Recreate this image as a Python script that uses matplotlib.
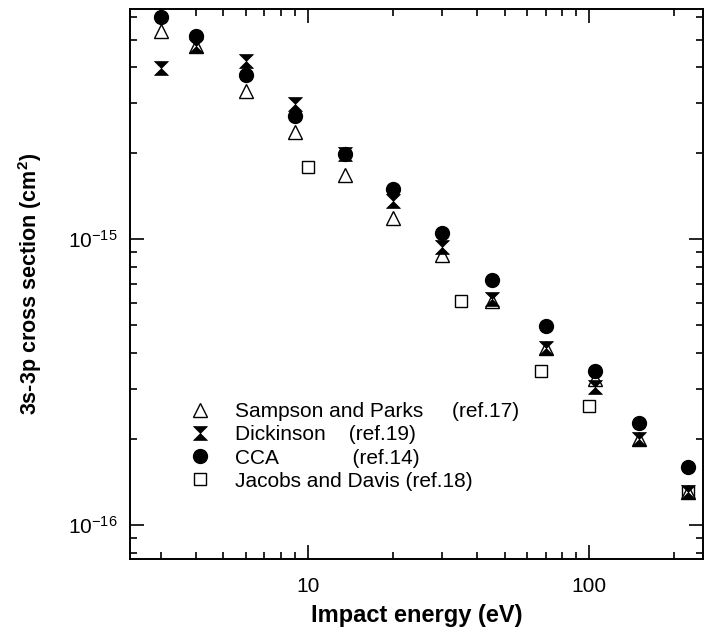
"""3s-3p excitation cross section vs impact energy (log-log)."""

import matplotlib
matplotlib.use("Agg")
import matplotlib.pyplot as plt
from matplotlib.ticker import NullFormatter, LogLocator

plt.rcParams["font.family"] = ["Liberation Sans", "DejaVu Sans"]
plt.rcParams["mathtext.default"] = "regular"

# data (eV, cm^2)
energy = [3, 4, 6, 9, 13.5, 20, 30, 45, 70, 105, 150, 225]
sampson = [5.37e-15, 4.75e-15, 3.3e-15, 2.37e-15, 1.68e-15, 1.19e-15,
           8.8e-16, 6.1e-16, 4.15e-16, 3.23e-16, 2.0e-16, 1.3e-16]
dickinson = [3.98e-15, 4.75e-15, 4.2e-15, 2.98e-15, 1.99e-15, 1.36e-15,
             9.4e-16, 6.16e-16, 4.15e-16, 3.05e-16, 2.0e-16, 1.3e-16]
cca = [6.0e-15, 5.15e-15, 3.76e-15, 2.7e-15, 1.99e-15, 1.5e-15,
       1.05e-15, 7.18e-16, 4.96e-16, 3.47e-16, 2.28e-16, 1.6e-16]
jacobs_energy = [10, 35, 67.5, 100, 225]
jacobs = [1.79e-15, 6.06e-16, 3.46e-16, 2.6e-16, 1.3e-16]

labels = [
    "Sampson and Parks     (ref.17)",
    "Dickinson    (ref.19)",
    "CCA             (ref.14)",
    "Jacobs and Davis (ref.18)",
]

# hourglass marker (two filled triangles tip to tip)
bowtie = [(-1, 1), (1, 1), (-1, -1), (1, -1), (-1, 1)]

fig = plt.figure(figsize=(7.08, 6.33), dpi=100)
ax = fig.add_axes([0.1836, 0.1169, 0.8094, 0.8689])

h_sq, = ax.plot(jacobs_energy, jacobs, ls="none", marker="s", ms=9,
                mfc="white", mec="black", mew=1.0)
h_tri, = ax.plot(energy, sampson, ls="none", marker="^", ms=10.5,
                 mfc="white", mec="black", mew=1.0)
h_bow, = ax.plot(energy, dickinson, ls="none", marker=bowtie, ms=10,
                 mfc="black", mec="black", mew=0.5)
h_cir, = ax.plot(energy, cca, ls="none", marker="o", ms=10,
                 mfc="black", mec="black")

ax.set_xscale("log")
ax.set_yscale("log")
ax.set_xlim(2.33, 254)
ax.set_ylim(7.6e-17, 6.4e-15)

ax.set_xticks([10, 100], labels=["10", "100"])
ax.set_yticks([1e-16, 1e-15])
ax.xaxis.set_minor_locator(LogLocator(base=10, subs=range(2, 10)))
ax.yaxis.set_minor_locator(LogLocator(base=10, subs=range(2, 10)))
ax.xaxis.set_minor_formatter(NullFormatter())
ax.yaxis.set_minor_formatter(NullFormatter())

ax.tick_params(which="both", direction="in", top=True, right=True,
               labelsize=15, width=1.2)
ax.tick_params(which="major", length=10)
ax.tick_params(which="minor", length=5)
ax.tick_params(axis="x", which="major", pad=13)
ax.tick_params(axis="y", which="major", pad=9)
for sp in ax.spines.values():
    sp.set_linewidth(1.4)

ax.set_xlabel("Impact energy (eV)", fontsize=17, fontweight="bold", labelpad=6)
ax.set_ylabel("3s-3p cross section (cm$^2$)", fontsize=15.5,
              fontweight="bold", labelpad=17)

ax.legend([h_tri, h_bow, h_cir, h_sq], labels, loc="upper left",
          bbox_to_anchor=(0.104, 0.285), frameon=False, fontsize=15,
          handlelength=1.0, handletextpad=1.18, labelspacing=0.2,
          borderpad=0, borderaxespad=0)

fig.savefig("out.png", dpi=100)
